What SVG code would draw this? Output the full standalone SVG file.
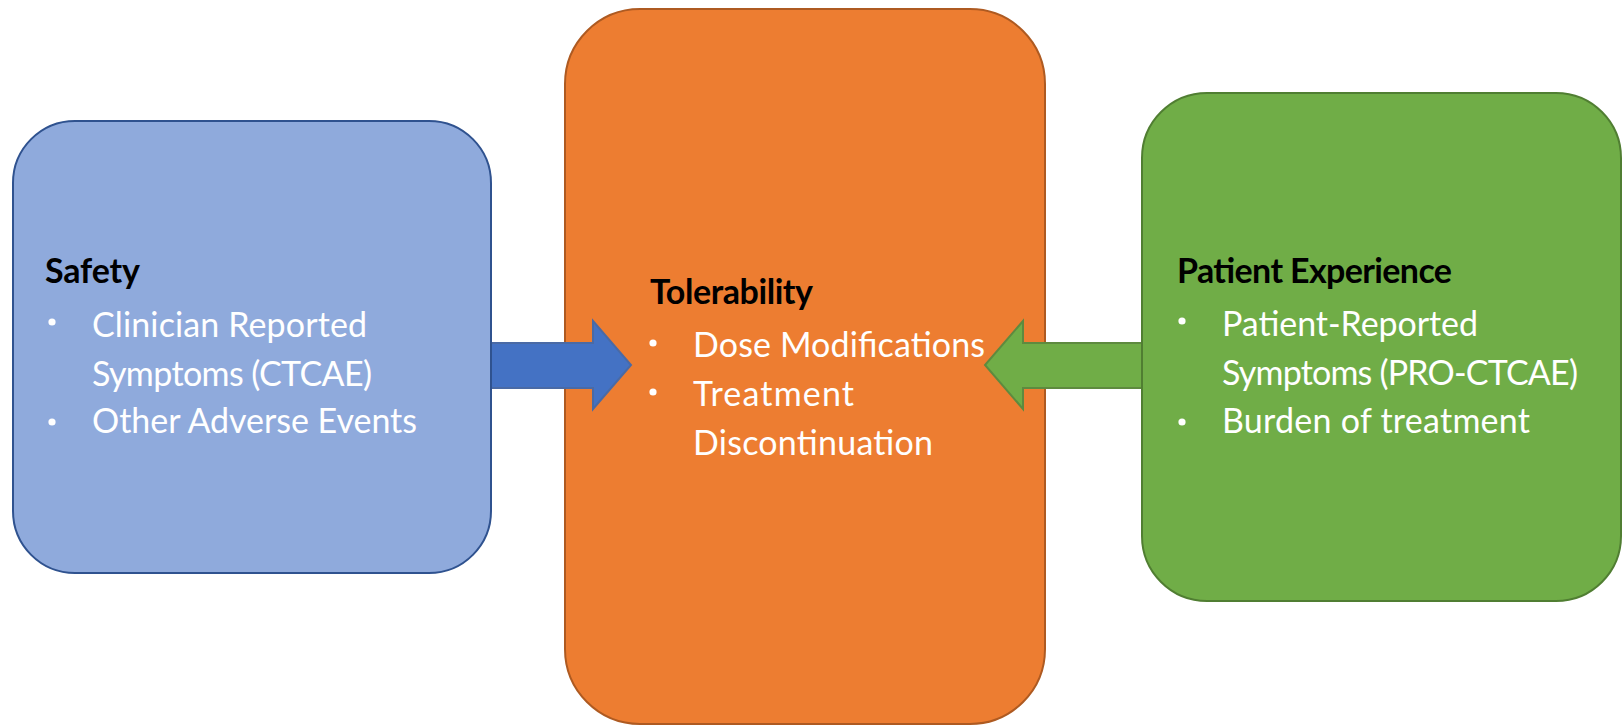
<svg xmlns="http://www.w3.org/2000/svg" width="1623" height="726" viewBox="0 0 1623 726">
  <style>
    .hdr { font-family: Lato, "Liberation Sans", sans-serif; font-weight: bold; font-size: 34px; fill: #000000; }
    .body { font-family: Lato, "Liberation Sans", sans-serif; font-size: 34px; fill: #FFFFFF; }
    .dot { fill: #FFFFFF; }
  </style>
  <rect width="1623" height="726" fill="#FFFFFF"/>

  <g id="tolerability">
    <rect x="565" y="9" width="480" height="715" rx="75" ry="75" fill="#ED7D31" stroke="#AE5A21" stroke-width="2"/>
    <text class="hdr" x="650" y="304" textLength="163">Tolerability</text>
    <circle class="dot" cx="653" cy="343" r="3.6"/>
    <text class="body" x="693" y="357" textLength="292">Dose Modifications</text>
    <circle class="dot" cx="653" cy="392" r="3.6"/>
    <text class="body" x="693" y="406" textLength="161">Treatment</text>
    <text class="body" x="693" y="455" textLength="240">Discontinuation</text>
  </g>

  <g id="connectors">
    <path d="M491,343 H593 V321 L631,365 L593,409 V388 H491 Z" fill="#4472C4" stroke="#4A6AA5" stroke-width="2" stroke-linejoin="miter"/>
    <path d="M1142,343 H1023 V321 L985,365 L1023,409 V388 H1142 Z" fill="#70AD47" stroke="#5E8A3F" stroke-width="2" stroke-linejoin="miter"/>
  </g>

  <g id="safety">
    <rect x="13" y="121" width="478" height="452" rx="62" ry="62" fill="#8FAADC" stroke="#2F528F" stroke-width="2"/>
    <text class="hdr" x="45" y="283" textLength="95">Safety</text>
    <circle class="dot" cx="52" cy="322" r="3.6"/>
    <text class="body" x="92" y="337" textLength="275">Clinician Reported</text>
    <text class="body" x="92" y="386" textLength="280">Symptoms (CTCAE)</text>
    <circle class="dot" cx="52" cy="422" r="3.6"/>
    <text class="body" x="92" y="433" textLength="325">Other Adverse Events</text>
  </g>

  <g id="patient-experience">
    <rect x="1142" y="93" width="479" height="508" rx="65" ry="65" fill="#70AD47" stroke="#507E32" stroke-width="2"/>
    <text class="hdr" x="1177" y="283" textLength="275">Patient Experience</text>
    <circle class="dot" cx="1182" cy="321" r="3.6"/>
    <text class="body" x="1222" y="336" textLength="256">Patient-Reported</text>
    <text class="body" x="1222" y="385" textLength="356">Symptoms (PRO-CTCAE)</text>
    <circle class="dot" cx="1182" cy="422" r="3.6"/>
    <text class="body" x="1222" y="433" textLength="308">Burden of treatment</text>
  </g>
</svg>
